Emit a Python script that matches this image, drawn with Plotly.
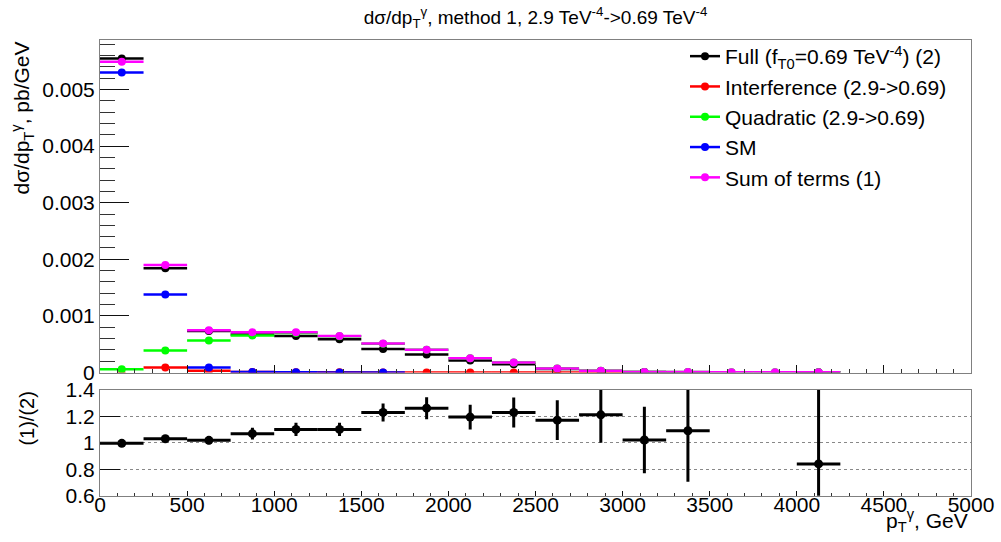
import plotly.graph_objects as go

# p_T^gamma bins (GeV): centres and half-width
pt_centers = [125, 375, 625, 875, 1125, 1375, 1625, 1875, 2125, 2375,
              2625, 2875, 3125, 3375, 3625, 3875, 4125]
bin_half_width = 125

# dsigma/dpT, pb/GeV
full = [0.00555, 0.00184, 0.000733, 0.000672, 0.000647, 0.000588, 0.000416,
        0.000317, 0.000212, 0.000145, 0.000060, 0.0000248, 0.0000098,
        0.0000064, None, None, 0.0000036]
full_err = [0.00004, 0.00002, 0.00001, 0.00001, 0.00001, 0.00001, 0.00001,
            0.00001, 0.00001, 0.00001, 0.000005, 0.000004, 0.000003,
            0.000003, None, None, 0.000003]
interference = [-0.00003, 0.00009, 0.00003, 0.00001, 0.000005, 0.000003,
                0.000002, 0.000002, 0.000002, 0.000002, 0.000002, 0.000002,
                None, None, None, None, None]
quadratic = [0.000058, 0.00039, 0.000565, 0.000653, 0.0007, 0.00064, 0.00051,
             0.0004, 0.00025, 0.000175, 0.00007, 0.00003, 0.00001, 0.000007,
             0.000004, 0.000003, 0.000003]
sm = [0.00530, 0.00138, 0.000088, 0.00001, 0.000004, 0.000002, 0.000001,
      None, None, None, None, None, None, None, None, None, None]
sum_terms = [0.00549, 0.00190, 0.000747, 0.000712, 0.000712, 0.000647,
             0.000512, 0.000400, 0.000253, 0.000177, 0.000070, 0.000030,
             0.000010, 0.000007, 0.000004, 0.000003, 0.000003]

# ratio (1)/(2) with its uncertainty
ratio = [0.995, 1.03, 1.018, 1.068, 1.10, 1.10, 1.228, 1.26, 1.193, 1.228,
         1.17, 1.21, 1.02, 1.09, None, None, 0.84]
ratio_err = [0.01, 0.015, 0.03, 0.044, 0.05, 0.05, 0.068, 0.083, 0.093, 0.113,
             0.15, 0.21, 0.25, 0.385, None, None, 0.65]

series = [
    ("Full (f<sub>T0</sub>=0.69 TeV<sup>-4</sup>) (2)", full, "#000000", full_err),
    ("Interference (2.9-&gt;0.69)", interference, "#ff0000", None),
    ("Quadratic (2.9-&gt;0.69)", quadratic, "#00ff00", None),
    ("SM", sm, "#0000ff", None),
    ("Sum of terms (1)", sum_terms, "#ff00ff", None),
]

y_ticks = [0, 0.001, 0.002, 0.003, 0.004, 0.005]
y_ticklabels = ["0", "0.001", "0.002", "0.003", "0.004", "0.005"]
r_ticks = [0.6, 0.8, 1.0, 1.2, 1.4]
r_ticklabels = ["0.6", "0.8", "1", "1.2", "1.4"]

FONT = "Liberation Sans, Arial, Helvetica, sans-serif"
FRAME = "#808080"

fig = go.Figure()

for name, vals, color, yerr in series:
    fig.add_trace(go.Scatter(
        x=pt_centers, y=vals, mode="markers", xaxis="x", yaxis="y",
        marker=dict(color=color, size=8, line=dict(width=0)),
        error_x=dict(type="constant", value=bin_half_width, width=0,
                     thickness=2.5, color=color),
        error_y=(dict(type="data", array=yerr, width=0, thickness=2.5,
                      color=color) if yerr is not None else None),
        showlegend=False, hoverinfo="x+y",
    ))

# legend entries (line + marker style)
for name, vals, color, yerr in series:
    fig.add_trace(go.Scatter(
        x=[None], y=[None], mode="lines+markers", name=name,
        xaxis="x", yaxis="y",
        line=dict(color=color, width=2.5),
        marker=dict(color=color, size=8),
    ))

fig.add_trace(go.Scatter(
    x=pt_centers, y=ratio, mode="markers", xaxis="x2", yaxis="y2",
    marker=dict(color="black", size=9),
    error_x=dict(type="constant", value=bin_half_width, width=0,
                 thickness=3, color="black"),
    error_y=dict(type="data", array=ratio_err, width=0, thickness=3,
                 color="black"),
    showlegend=False,
))

main_dom = [1 - 372.5 / 542, 1 - 40 / 542]
ratio_dom = [1 - 495.8 / 542, 1 - 389.6 / 542]

common_x = dict(range=[0, 5000], dtick=500, tick0=0, ticks="inside",
                tickcolor="#111", tickwidth=1, showline=True, mirror=True,
                linecolor=FRAME, linewidth=1, showgrid=False, zeroline=False)

fig.update_layout(
    width=1001, height=542,
    margin=dict(l=100, r=30, t=0, b=0, autoexpand=False),
    paper_bgcolor="white", plot_bgcolor="white",
    font=dict(family=FONT, color="black"),
    title=dict(
        text="dσ/dp<sub>T</sub><sup>γ</sup>, method 1, 2.9 TeV<sup>-4</sup>-&gt;0.69 TeV<sup>-4</sup>",
        x=0.5, xref="paper", xanchor="center",
        y=1 - 17 / 542, yref="container", yanchor="middle",
        font=dict(size=19, family=FONT),
    ),
    xaxis=dict(**common_x, domain=[0, 1], anchor="y", ticklen=8,
               showticklabels=False,
               minor=dict(dtick=100, ticks="inside", ticklen=4,
                          tickcolor="#333")),
    yaxis=dict(domain=main_dom, anchor="x", range=[0, 0.005875],
               tickvals=y_ticks, ticktext=y_ticklabels, ticks="inside",
               ticklen=29, tickcolor="#111", tickfont=dict(size=21),
               showline=True, mirror=True, linecolor=FRAME, linewidth=1,
               showgrid=False, zeroline=False,
               minor=dict(dtick=0.0002, ticks="inside", ticklen=15,
                          tickcolor="#333")),
    xaxis2=dict(**common_x, domain=[0, 1], anchor="y2", ticklen=5,
                tickfont=dict(size=21), ticklabelstandoff=-10,
                minor=dict(dtick=100, ticks="inside", ticklen=3,
                           tickcolor="#333")),
    yaxis2=dict(domain=ratio_dom, anchor="x2", range=[0.6, 1.4],
                tickvals=r_ticks, ticktext=r_ticklabels, ticks="inside",
                ticklen=20, tickcolor="#111", tickfont=dict(size=21),
                showline=True, mirror=True, linecolor=FRAME, linewidth=1,
                showgrid=True, gridcolor="#888", griddash="dot",
                gridwidth=1, zeroline=False),
    legend=dict(x=(685 - 100) / 871, xanchor="left", xref="paper",
                y=1 - 36 / 542, yanchor="top", yref="paper",
                bgcolor="rgba(0,0,0,0)", font=dict(size=21, family=FONT),
                tracegroupgap=0),
    annotations=[
        dict(text="dσ/dp<sub>T</sub><sup>γ</sup>, pb/GeV", textangle=-90,
             xref="paper", x=(22 - 100) / 871, xanchor="center",
             yref="paper", y=main_dom[1], yanchor="top",
             showarrow=False, font=dict(size=21, family=FONT)),
        dict(text="(1)/(2)", textangle=-90,
             xref="paper", x=(27 - 100) / 871, xanchor="center",
             yref="paper", y=ratio_dom[1], yanchor="top",
             showarrow=False, font=dict(size=20, family=FONT)),
        dict(text="p<sub>T</sub><sup>γ</sup>, GeV",
             xref="paper", x=(970 - 100) / 871, xanchor="right",
             yref="paper", y=1 - 537 / 542, yanchor="bottom",
             showarrow=False, font=dict(size=21, family=FONT)),
    ],
)

fig.write_html("out.html")
